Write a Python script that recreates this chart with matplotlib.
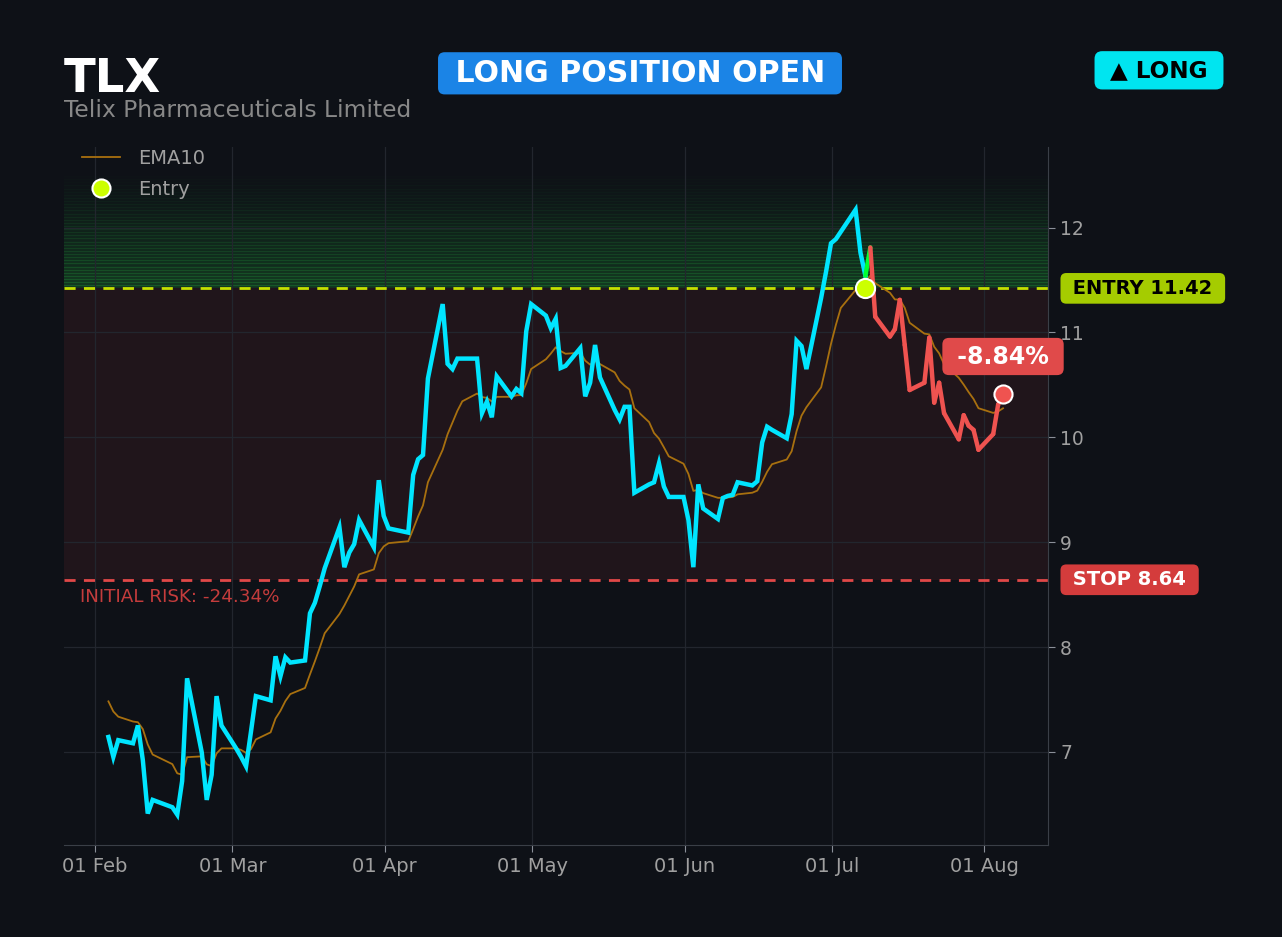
import numpy as np
import pandas as pd
import matplotlib
matplotlib.use("Agg")
import matplotlib.pyplot as plt
import matplotlib.dates as mdates
from matplotlib.lines import Line2D
from matplotlib.collections import LineCollection

# donnees de la position
ticker = "TLX"
company = "Telix Pharmaceuticals Limited"
entry_price = 11.42
stop_price = 8.64
entry_date = "2026-07-08"
ema_start = 7.48  # valeur de l'EMA10 au premier jour affiche

dates = [
    "2026-02-04", "2026-02-05", "2026-02-06", "2026-02-09", "2026-02-10", "2026-02-11",
    "2026-02-12", "2026-02-13", "2026-02-17", "2026-02-18", "2026-02-19", "2026-02-20",
    "2026-02-23", "2026-02-24", "2026-02-25", "2026-02-26", "2026-02-27", "2026-03-02",
    "2026-03-03", "2026-03-04", "2026-03-05", "2026-03-06", "2026-03-09", "2026-03-10",
    "2026-03-11", "2026-03-12", "2026-03-13", "2026-03-16", "2026-03-17", "2026-03-18",
    "2026-03-19", "2026-03-20", "2026-03-23", "2026-03-24", "2026-03-25", "2026-03-26",
    "2026-03-27", "2026-03-30", "2026-03-31", "2026-04-01", "2026-04-02", "2026-04-06",
    "2026-04-07", "2026-04-08", "2026-04-09", "2026-04-10", "2026-04-13", "2026-04-14",
    "2026-04-15", "2026-04-16", "2026-04-17", "2026-04-20", "2026-04-21", "2026-04-22",
    "2026-04-23", "2026-04-24", "2026-04-27", "2026-04-28", "2026-04-29", "2026-04-30",
    "2026-05-01", "2026-05-04", "2026-05-05", "2026-05-06", "2026-05-07", "2026-05-08",
    "2026-05-11", "2026-05-12", "2026-05-13", "2026-05-14", "2026-05-15", "2026-05-18",
    "2026-05-19", "2026-05-20", "2026-05-21", "2026-05-22", "2026-05-25", "2026-05-26",
    "2026-05-27", "2026-05-28", "2026-05-29", "2026-06-01", "2026-06-02", "2026-06-03",
    "2026-06-04", "2026-06-05", "2026-06-08", "2026-06-09", "2026-06-10", "2026-06-11",
    "2026-06-12", "2026-06-15", "2026-06-16", "2026-06-17", "2026-06-18", "2026-06-19",
    "2026-06-22", "2026-06-23", "2026-06-24", "2026-06-25", "2026-06-26", "2026-06-29",
    "2026-06-30", "2026-07-01", "2026-07-02", "2026-07-03", "2026-07-06", "2026-07-07",
    "2026-07-08", "2026-07-09", "2026-07-10", "2026-07-13", "2026-07-14", "2026-07-15",
    "2026-07-16", "2026-07-17", "2026-07-20", "2026-07-21", "2026-07-22", "2026-07-23",
    "2026-07-24", "2026-07-27", "2026-07-28", "2026-07-29", "2026-07-30", "2026-07-31",
    "2026-08-03", "2026-08-04", "2026-08-05",
]
close = [
    7.14, 6.95, 7.11, 7.08, 7.25, 6.92,
    6.41, 6.54, 6.47, 6.40, 6.72, 7.70,
    6.99, 6.54, 6.78, 7.53, 7.25, 7.03,
    6.95, 6.86, 7.19, 7.53, 7.49, 7.91,
    7.72, 7.90, 7.85, 7.87, 8.32, 8.42,
    8.58, 8.75, 9.14, 8.76, 8.90, 8.98,
    9.21, 8.95, 9.59, 9.25, 9.13, 9.09,
    9.64, 9.79, 9.83, 10.56, 11.27, 10.70,
    10.65, 10.75, 10.75, 10.75, 10.23, 10.34,
    10.19, 10.58, 10.39, 10.46, 10.42, 11.01,
    11.27, 11.16, 11.04, 11.13, 10.66, 10.68,
    10.85, 10.39, 10.52, 10.88, 10.57, 10.26,
    10.17, 10.29, 10.29, 9.47, 9.55, 9.57,
    9.75, 9.53, 9.43, 9.43, 9.21, 8.76,
    9.55, 9.32, 9.22, 9.42, 9.44, 9.45,
    9.57, 9.54, 9.58, 9.95, 10.10, 10.07,
    9.99, 10.22, 10.92, 10.87, 10.65, 11.33,
    11.58, 11.85, 11.89, 11.96, 12.17, 11.76,
    11.54, 11.81, 11.15, 10.96, 11.03, 11.31,
    10.88, 10.45, 10.52, 10.95, 10.33, 10.52,
    10.23, 9.98, 10.21, 10.11, 10.07, 9.88,
    10.03, 10.31, 10.41,
]

# couleurs
BG = "#0e1117"
CYAN = "#00e5ff"
RED = "#ef5350"
LIME = "#ccff00"
EMA_COL = "#a8700f"
GRID = "#22262e"
TXT = "#a0a0a0"

# dates en heure UTC (decalage du fuseau)
x = pd.to_datetime(dates) - pd.Timedelta(hours=5)
xn = mdates.date2num(x)
close = np.array(close)

# EMA10
k = 2 / (10 + 1)
ema = [ema_start]
for p in close[1:]:
    ema.append(ema[-1] + k * (p - ema[-1]))
ema = np.array(ema)

i_entry = dates.index(entry_date)
last = close[-1]
pnl = (last - entry_price) / entry_price * 100
risk = (stop_price - entry_price) / entry_price * 100

fig = plt.figure(figsize=(12.82, 9.372), dpi=100, facecolor=BG)
ax = fig.add_axes([0.0499, 0.0982, 0.7678, 0.7449])
ax.set_facecolor(BG)

# zones
ax.axhspan(stop_price, entry_price, color="#ff5050", alpha=0.08, lw=0, zorder=0)
n = 38
top = 12.55
edges = np.linspace(entry_price, top, n + 1)
for i in range(n):
    a = 0.2 * (1 - i / n) ** 1.3
    ax.axhspan(edges[i], edges[i + 1], color="#22c040", alpha=a, lw=0, zorder=0)
    ax.axhline(edges[i + 1], color="#2bd04a", alpha=a * 1.2, lw=1.0, zorder=0)

ax.axhline(entry_price, color="#c5e000", ls=(0, (4, 3)), lw=2, zorder=3)
ax.axhline(stop_price, color="#e04848", ls=(0, (4, 3)), lw=2, zorder=3)

# prix
ax.plot(xn[:i_entry + 1], close[:i_entry + 1], color=CYAN, lw=3.2, zorder=4, solid_joinstyle="miter")
segs = []
cols = []
for i in range(i_entry, len(close) - 1):
    segs.append([(xn[i], close[i]), (xn[i + 1], close[i + 1])])
    cols.append("#00ff33" if close[i + 1] > entry_price else RED)
ax.add_collection(LineCollection(segs, colors=cols, linewidths=3.2, zorder=4, capstyle="round"))

ax.plot(xn, ema, color=EMA_COL, lw=1.3, zorder=3)

ax.scatter([xn[i_entry]], [entry_price], s=190, c=LIME, edgecolors="white", linewidths=1.5, zorder=6)
ax.scatter([xn[-1]], [last], s=170, c=RED, edgecolors="white", linewidths=1.5, zorder=6)

# axes
feb1 = mdates.date2num(pd.Timestamp("2026-02-01"))
ax.set_xlim(feb1 - 6.25, feb1 + 194.0)
ax.set_ylim(6.11, 12.77)
ax.xaxis.set_major_locator(mdates.MonthLocator())
ax.xaxis.set_major_formatter(mdates.DateFormatter("%d %b"))
ax.yaxis.tick_right()
ax.set_yticks([7, 8, 9, 10, 11, 12])
ax.tick_params(colors="#8a8f98", labelcolor=TXT, length=5)
ax.tick_params(axis="x", labelsize=14)
ax.tick_params(axis="y", labelsize=13.5)
ax.grid(True, color=GRID, lw=0.9, zorder=1)
for s in ["top", "left"]:
    ax.spines[s].set_visible(False)
for s in ["bottom", "right"]:
    ax.spines[s].set_color("#3a3f47")

# etiquettes a droite
ax.text(1.0183, entry_price, f" ENTRY {entry_price:.2f} ", transform=ax.get_yaxis_transform(),
        ha="left", va="center", fontsize=14, fontweight="bold", color="black",
        bbox=dict(boxstyle="round,pad=0.3", fc="#a5cc00", ec="none"), zorder=7)
ax.text(1.0183, stop_price, f" STOP {stop_price:.2f} ", transform=ax.get_yaxis_transform(),
        ha="left", va="center", fontsize=14, fontweight="bold", color="white",
        bbox=dict(boxstyle="round,pad=0.3", fc="#d43c3c", ec="none"), zorder=7)
ax.text(xn[-1], last + 0.36, f" {pnl:.2f}% ", ha="center", va="center", fontsize=17,
        fontweight="bold", color="white",
        bbox=dict(boxstyle="round,pad=0.28", fc="#e04a4a", ec="none"), zorder=7)
ax.text(0.0163, 8.48, f"INITIAL RISK: {risk:.2f}%", transform=ax.get_yaxis_transform(),
        ha="left", va="center", fontsize=13.2, color="#c43c3c", zorder=7)

# legende
handles = [
    Line2D([], [], color=EMA_COL, lw=1.3, label="EMA10"),
    Line2D([], [], marker="o", ls="none", markersize=13, markerfacecolor=LIME,
           markeredgecolor="white", markeredgewidth=1.5, label="Entry"),
]
ax.legend(handles=handles, loc="upper left", bbox_to_anchor=(0.004, 1.016), frameon=False,
          fontsize=14, labelcolor=TXT, borderaxespad=0.3, handlelength=2.0,
          handletextpad=0.9, labelspacing=0.6)

# titres
fig.text(64 / 1282, 1 - 79 / 937, ticker, ha="left", va="center", fontsize=33.5,
         fontweight="bold", color="white")
fig.text(64 / 1282, 1 - 110 / 937, company, ha="left", va="center", fontsize=16.8, color="#888888")
fig.text(640 / 1282, 1 - 73.5 / 937, " LONG POSITION OPEN ", ha="center", va="center", fontsize=21.6,
         fontweight="bold", color="white",
         bbox=dict(boxstyle="round,pad=0.22", fc="#1b84e6", ec="none"))
fig.text(1159 / 1282, 1 - 70.5 / 937, " ▲ LONG ", ha="center", va="center", fontsize=16.7,
         fontweight="bold", color="black",
         bbox=dict(boxstyle="round,pad=0.33", fc="#00e5f0", ec="none"))

fig.savefig("out.png", dpi=100, facecolor=BG)
